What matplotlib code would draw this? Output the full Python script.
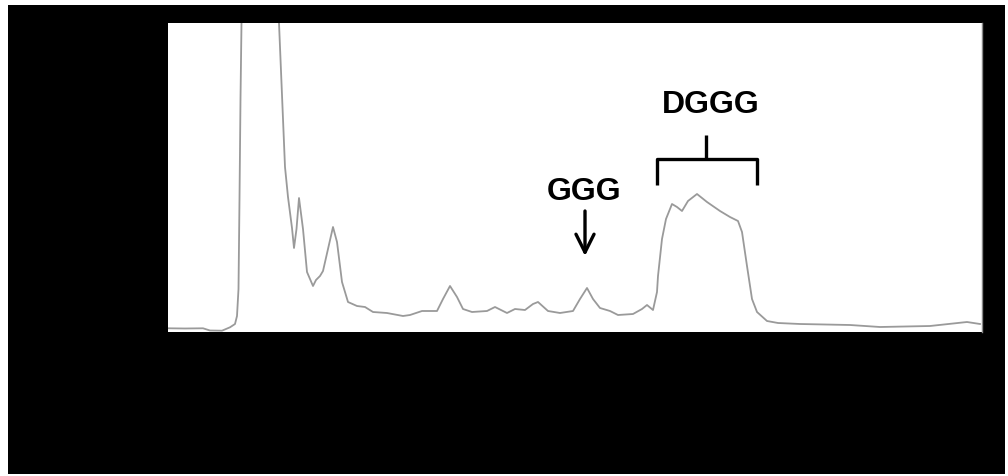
import matplotlib.pyplot as plt
from matplotlib.patches import Rectangle

# chromatogram trace (retention, signal), arbitrary units
retention = [0, 17, 35, 42, 54, 62, 67, 69, 70.5, 71.5, 72.5, 73.5, 90,
             111, 115, 117, 120, 124, 126, 128.5, 131, 135, 139, 145, 148, 152, 155,
             160, 165, 169, 174, 180, 189, 197, 205, 219, 235, 242, 254, 269, 275,
             282, 289, 295, 304, 319, 327, 339, 347, 357, 365, 370, 380, 392, 405,
             412, 419, 425, 432, 442, 450, 465, 474, 479, 485, 489, 490, 494, 498,
             504, 509, 514, 520, 529, 539, 552, 562, 570, 574, 579, 584, 589, 599,
             610, 632, 682, 712, 762, 799, 812]
signal = [3.7, 3.5, 3.7, 1.5, 1.3, 4.7, 8, 16, 43, 133, 233, 309, 560,
          309, 213, 165, 135, 104, 84, 103, 134, 103, 60, 46, 52, 56, 61,
          83, 105, 90, 50, 30, 26, 25, 20, 19, 16, 17, 21, 21, 33,
          46, 35, 23, 20, 21, 25, 19, 23, 22, 28, 30, 21, 19, 21,
          33, 44, 33, 24, 21, 17, 18, 23, 27, 22, 40, 56, 93, 113,
          128, 125, 121, 131, 138, 130, 121, 115, 111, 100, 66, 33, 20, 11,
          9, 8, 7, 5, 6, 10, 8]

ggg_pos = 417          # GGG peak
dggg_range = (489, 589)  # DGGG band

fig = plt.figure(figsize=(10.08, 4.77), dpi=100, facecolor='white')
fig.add_artist(Rectangle((8 / 1008, 2 / 477), 997 / 1008, 469 / 477,
                         transform=fig.transFigure, facecolor='black',
                         edgecolor='none', zorder=-1))

ax = fig.add_axes([168 / 1008, 144 / 477, 814 / 1008, 309 / 477])
ax.set_facecolor('white')
ax.plot(retention, signal, color='#9a9a9a', lw=1.3, solid_joinstyle='round')
ax.set_xlim(0, 814)
ax.set_ylim(0, 309)
ax.set_xticks([])
ax.set_yticks([])
for s in ['left', 'top', 'bottom']:
    ax.spines[s].set_visible(False)
ax.spines['right'].set_color('#888888')
ax.spines['right'].set_linewidth(1.0)

font = dict(family='Liberation Sans', fontsize=23, fontweight='bold', color='black')

ax.text(ggg_pos - 1, 141, 'GGG', ha='center', va='center', **font)
ax.annotate('', xy=(ggg_pos, 76), xytext=(ggg_pos, 121),
            arrowprops=dict(arrowstyle='->,head_length=1.3,head_width=0.65',
                            lw=2.4, color='black', shrinkA=0, shrinkB=0))

mid = (dggg_range[0] + dggg_range[1]) / 2
ax.plot([dggg_range[0], dggg_range[0], dggg_range[1], dggg_range[1]],
        [147, 173, 173, 147], color='black', lw=2.4, solid_capstyle='butt')
ax.plot([mid - 1, mid - 1], [173, 197], color='black', lw=2.4, solid_capstyle='butt')
ax.text(mid + 4, 227.5, 'DGGG', ha='center', va='center', **font)

fig.savefig('out.png', dpi=100, facecolor='white')
